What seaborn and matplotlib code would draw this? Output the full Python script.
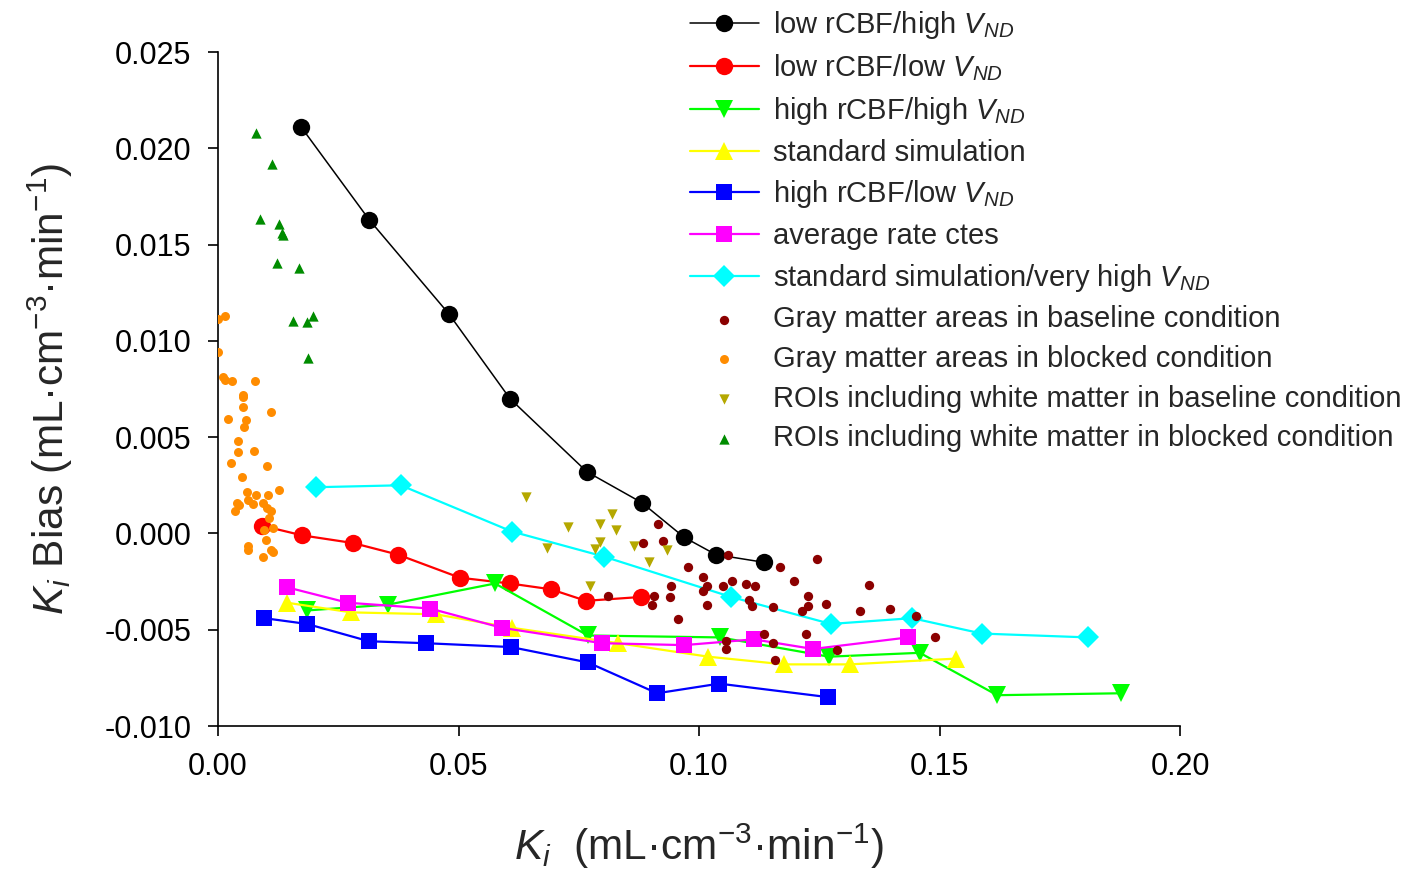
import numpy as np
import pandas as pd
import matplotlib
matplotlib.use("Agg")
import matplotlib.pyplot as plt
from matplotlib.ticker import FormatStrFormatter
import seaborn as sns

# ---------------- data ----------------
black_x = [0.0173, 0.0314, 0.0480, 0.0607, 0.0767, 0.0881, 0.0969, 0.1035, 0.1135]
black_y = [0.0211, 0.0163, 0.0114, 0.0070, 0.0032, 0.0016, -0.0002, -0.0011, -0.0015]

red_x = [0.0092, 0.0175, 0.0281, 0.0374, 0.0503, 0.0607, 0.0692, 0.0765, 0.0879]
red_y = [0.0004, -0.0001, -0.0005, -0.0011, -0.0023, -0.0026, -0.0029, -0.0035, -0.0033]

green_x = [0.0185, 0.0353, 0.0576, 0.0769, 0.1044, 0.1270, 0.1459, 0.1620, 0.1877]
green_y = [-0.0040, -0.0037, -0.0026, -0.0053, -0.0054, -0.0064, -0.0062, -0.0084, -0.0083]

yellow_x = [0.0144, 0.0277, 0.0453, 0.0611, 0.0832, 0.1019, 0.1177, 0.1314, 0.1534]
yellow_y = [-0.0036, -0.0041, -0.0042, -0.0049, -0.0057, -0.0064, -0.0068, -0.0068, -0.0065]

blue_x = [0.0096, 0.0185, 0.0314, 0.0432, 0.0609, 0.0769, 0.0913, 0.1042, 0.1268]
blue_y = [-0.0044, -0.0047, -0.0056, -0.0057, -0.0059, -0.0067, -0.0083, -0.0078, -0.0085]

magenta_x = [0.0144, 0.0270, 0.0441, 0.0590, 0.0798, 0.0969, 0.1114, 0.1237, 0.1435]
magenta_y = [-0.0028, -0.0036, -0.0039, -0.0049, -0.0057, -0.0058, -0.0055, -0.0060, -0.0054]

cyan_x = [0.0204, 0.0380, 0.0611, 0.0802, 0.1067, 0.1274, 0.1443, 0.1588, 0.1809]
cyan_y = [0.0024, 0.0025, 0.0001, -0.0012, -0.0033, -0.0047, -0.0044, -0.0052, -0.0054]

gm_base_x = [0.0915, 0.0884, 0.0925, 0.1060, 0.1168, 0.1245, 0.0977, 0.1008, 0.1069, 0.1098,
             0.1116, 0.1198, 0.0942, 0.1017, 0.1050, 0.1353, 0.1008, 0.0906, 0.0940, 0.1227,
             0.0902, 0.1017, 0.1104, 0.1110, 0.1154, 0.1214, 0.1227, 0.1264, 0.1335, 0.1397,
             0.1451, 0.0956, 0.1135, 0.1154, 0.1222, 0.1056, 0.1056, 0.1287, 0.1158, 0.1491,
             0.0811]
gm_base_y = [0.00049, -0.00050, -0.00039, -0.00112, -0.00174, -0.00133, -0.00174, -0.00226, -0.00247, -0.00262,
             -0.00273, -0.00247, -0.00273, -0.00273, -0.00273, -0.00268, -0.00299, -0.00325, -0.00330, -0.00325,
             -0.00371, -0.00371, -0.00345, -0.00376, -0.00382, -0.00403, -0.00376, -0.00366, -0.00403, -0.00392,
             -0.00429, -0.00444, -0.00522, -0.00569, -0.00522, -0.00558, -0.00600, -0.00605, -0.00657, -0.00538,
             -0.00325]

gm_block_x = [0.0000, 0.0015, 0.0000, 0.0010, 0.0015, 0.0029, 0.0077, 0.0052, 0.0052, 0.0052,
              0.0110, 0.0021, 0.0058, 0.0054, 0.0042, 0.0042, 0.0075, 0.0027, 0.0102, 0.0050,
              0.0060, 0.0079, 0.0104, 0.0127, 0.0062, 0.0040, 0.0044, 0.0073, 0.0094, 0.0035,
              0.0102, 0.0110, 0.0106, 0.0096, 0.0114, 0.0100, 0.0062, 0.0062, 0.0094, 0.0110,
              0.0114]
gm_block_y = [0.01114, 0.01129, 0.00942, 0.00812, 0.00797, 0.00792, 0.00792, 0.00719, 0.00708, 0.00657,
              0.00631, 0.00594, 0.00589, 0.00553, 0.00480, 0.00423, 0.00428, 0.00366, 0.00350, 0.00293,
              0.00215, 0.00200, 0.00200, 0.00226, 0.00174, 0.00158, 0.00148, 0.00153, 0.00158, 0.00117,
              0.00132, 0.00117, 0.00080, 0.00018, 0.00028, -0.00034, -0.00086, -0.00065, -0.00122, -0.00086,
              -0.00097]

wm_base_x = [0.0640, 0.0819, 0.0728, 0.0794, 0.0827, 0.0794, 0.0784, 0.0684, 0.0865, 0.0933,
             0.0896, 0.0773]
wm_base_y = [0.00189, 0.00101, 0.00033, 0.00049, 0.00018, -0.00044, -0.00080, -0.00075, -0.00065, -0.00086,
             -0.00148, -0.00272]

wm_block_x = [0.0079, 0.0112, 0.0087, 0.0127, 0.0133, 0.0135, 0.0123, 0.0168, 0.0156, 0.0185,
              0.0198, 0.0187]
wm_block_y = [0.02079, 0.01918, 0.01633, 0.01607, 0.01560, 0.01550, 0.01405, 0.01378, 0.01103, 0.01098,
              0.01129, 0.00911]

x_ticks = [0.00, 0.05, 0.10, 0.15, 0.20]
y_ticks = [-0.010, -0.005, 0.000, 0.005, 0.010, 0.015, 0.020, 0.025]

# ---------------- style ----------------
sns.set_theme(style="ticks")
plt.rcParams['font.family'] = ['Liberation Sans', 'DejaVu Sans']
plt.rcParams['mathtext.fontset'] = 'custom'
plt.rcParams['mathtext.rm'] = 'Liberation Sans'
plt.rcParams['mathtext.it'] = 'Liberation Sans:italic'
plt.rcParams['mathtext.bf'] = 'Liberation Sans:bold'
plt.rcParams['axes.unicode_minus'] = False

fig = plt.figure(figsize=(14.23, 8.73), dpi=100)
ax = fig.add_axes([218/1423, 1-726/873, (1180-218)/1423, (726-52)/873])

lines = [
    (black_x, black_y, 'black', 'o', 12.5, 1.1, r'low rCBF/high $V_{ND}$'),
    (red_x, red_y, '#FF0000', 'o', 12.5, 1.6, r'low rCBF/low $V_{ND}$'),
    (green_x, green_y, '#00FF00', 'v', 13, 1.6, r'high rCBF/high $V_{ND}$'),
    (yellow_x, yellow_y, '#FFFF00', '^', 13, 1.6, 'standard simulation'),
    (blue_x, blue_y, '#0000FF', 's', 11.5, 1.6, r'high rCBF/low $V_{ND}$'),
    (magenta_x, magenta_y, '#FF00FF', 's', 11.5, 1.6, 'average rate ctes'),
    (cyan_x, cyan_y, '#00FFFF', 'D', 11.5, 1.6, r'standard simulation/very high $V_{ND}$'),
]
for xs, ys, col, mk, ms, lw, lab in lines:
    df = pd.DataFrame({'x': xs, 'y': ys})
    sns.lineplot(data=df, x='x', y='y', ax=ax, color=col, marker=mk, markersize=ms,
                 markeredgewidth=0, linewidth=lw, estimator=None, sort=False, label=lab)

scatters = [
    (gm_base_x, gm_base_y, '#8B0000', 'o', 45, 'Gray matter areas in baseline condition'),
    (gm_block_x, gm_block_y, '#FF8C00', 'o', 42, 'Gray matter areas in blocked condition'),
    (wm_base_x, wm_base_y, '#B5A800', 'v', 55, 'ROIs including white matter in baseline condition'),
    (wm_block_x, wm_block_y, '#008C00', '^', 55, 'ROIs including white matter in blocked condition'),
]
for xs, ys, col, mk, s, lab in scatters:
    df = pd.DataFrame({'x': xs, 'y': ys})
    sns.scatterplot(data=df, x='x', y='y', ax=ax, color=col, marker=mk, s=s,
                    linewidth=0, label=lab, zorder=5)

ax.set_xlim(0, 0.20)
ax.set_ylim(-0.010, 0.025)
ax.set_xticks(x_ticks)
ax.set_yticks(y_ticks)
ax.xaxis.set_major_formatter(FormatStrFormatter('%.2f'))
ax.yaxis.set_major_formatter(FormatStrFormatter('%.3f'))
ax.tick_params(direction='out', length=7, width=1.2, labelsize=22, pad=12, colors='black')
for side in ['top', 'right']:
    ax.spines[side].set_visible(False)
for side in ['left', 'bottom']:
    ax.spines[side].set_linewidth(1.2)
    ax.spines[side].set_color('black')

ax.set_xlabel(r'$K_i$  (mL·cm$^{-3}$·min$^{-1}$)', fontsize=30.5, labelpad=28)
ax.set_ylabel(r'$K_i$ Bias (mL·cm$^{-3}$·min$^{-1}$)', fontsize=30.5, labelpad=21)

handles, labels = ax.get_legend_handles_labels()
ax.legend(handles, labels, loc='upper left', bbox_to_anchor=(690/1423, 1-9/873),
          bbox_transform=fig.transFigure, frameon=False, fontsize=21,
          handlelength=2.35, handletextpad=0.5, borderpad=0, borderaxespad=0,
          labelspacing=0.40)

fig.savefig('out.png', dpi=100)
